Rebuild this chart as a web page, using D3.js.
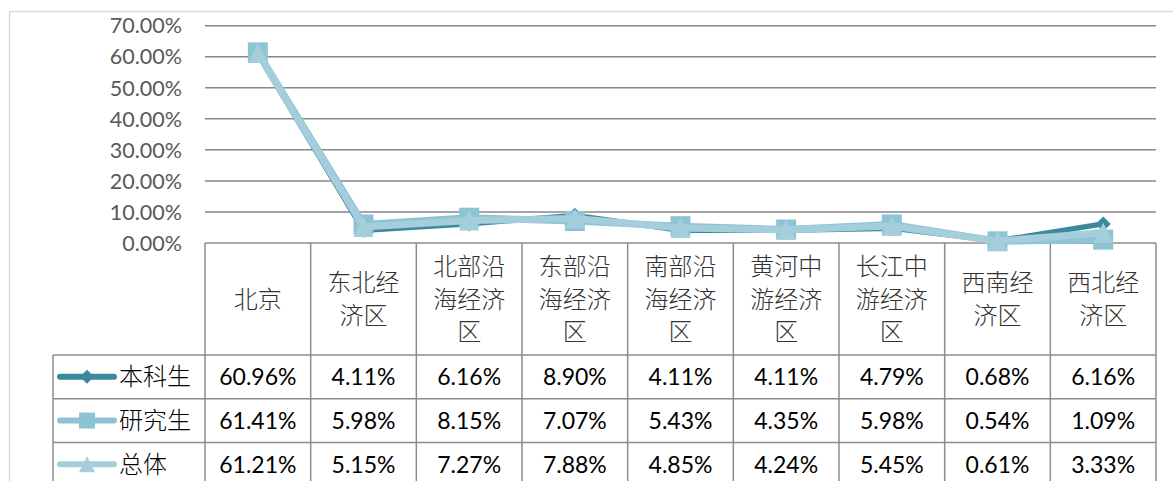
<!DOCTYPE html>
<html>
<head>
<meta charset="utf-8">
<script src="https://cdn.jsdelivr.net/npm/d3@7"></script>
<style>
  body { margin: 0; background: #fff; }
  svg text { font-family: Lato, "Noto Sans CJK SC", sans-serif; }
</style>
</head>
<body>
<div id="chart"></div>
<script>
// data
var regions = ["北京", "东北经济区", "北部沿海经济区", "东部沿海经济区", "南部沿海经济区",
               "黄河中游经济区", "长江中游经济区", "西南经济区", "西北经济区"];
var seriesNames = ["本科生", "研究生", "总体"];
var undergrad = [60.96, 4.11, 6.16, 8.90, 4.11, 4.11, 4.79, 0.68, 6.16];
var graduate  = [61.41, 5.98, 8.15, 7.07, 5.43, 4.35, 5.98, 0.54, 1.09];
var overall   = [61.21, 5.15, 7.27, 7.88, 4.85, 4.24, 5.45, 0.61, 3.33];
var yTicks = [0, 10, 20, 30, 40, 50, 60, 70];

var width = 1173, height = 481;
var plot = {left: 205, right: 1156, top: 25.7, bottom: 243};
var headerBottom = 355, rowH = 43.7, legendLeft = 53;

var series = [
  {name: seriesNames[0], values: undergrad, color: "#3a8a9e", lw: 5.5, marker: "diamond"},
  {name: seriesNames[1], values: graduate,  color: "#8ec3d5", lw: 7,   marker: "square"},
  {name: seriesNames[2], values: overall,   color: "#a5cedc", lw: 7,   marker: "triangle"}
];

var svg = d3.select("#chart").append("svg")
    .attr("width", width)
    .attr("height", height);

// outer chart border
svg.append("rect")
    .attr("x", 9.5).attr("y", 11.5)
    .attr("width", width + 20).attr("height", height + 20)
    .attr("fill", "none").attr("stroke", "#d9d9d9").attr("stroke-width", 1.5);

var x = d3.scaleBand().domain(regions).range([plot.left, plot.right]);
var y = d3.scaleLinear().domain([0, 70]).range([plot.bottom, plot.top]);

// gridlines
svg.append("g").selectAll("line")
  .data(yTicks.filter(function(d){ return d > 0; }))
  .enter().append("line")
    .attr("x1", plot.left).attr("x2", plot.right)
    .attr("y1", function(d){ return y(d); }).attr("y2", function(d){ return y(d); })
    .attr("stroke", "#878787").attr("stroke-width", 1.5);

// y labels
svg.append("g").selectAll("text")
  .data(yTicks)
  .enter().append("text")
    .attr("x", 182)
    .attr("y", function(d){ return y(d); })
    .attr("dy", "0.36em")
    .attr("text-anchor", "end")
    .attr("fill", "#595959")
    .style("font-size", "21.5px")
    .text(function(d){ return d.toFixed(2) + "%"; });

// data table grid
var tbl = svg.append("g").attr("stroke", "#8c8c8c").attr("stroke-width", 1.5);
var tableBottom = headerBottom + rowH * 3;
tbl.append("line").attr("x1", plot.left).attr("x2", plot.right)
    .attr("y1", plot.bottom).attr("y2", plot.bottom);
d3.range(0, 4).forEach(function(r){
  var yy = headerBottom + r * rowH;
  tbl.append("line").attr("x1", legendLeft).attr("x2", plot.right)
      .attr("y1", yy).attr("y2", yy);
});
tbl.append("line").attr("x1", legendLeft).attr("x2", legendLeft)
    .attr("y1", headerBottom).attr("y2", tableBottom);
d3.range(0, regions.length + 1).forEach(function(i){
  var xx = plot.left + i * x.bandwidth();
  tbl.append("line").attr("x1", xx).attr("x2", xx)
      .attr("y1", plot.bottom).attr("y2", tableBottom);
});

// category headers, 3 chars per line
var lineH = 32.5;
var heads = svg.append("g").selectAll("text")
  .data(regions)
  .enter().append("text")
    .attr("text-anchor", "middle")
    .attr("fill", "#333")
    .style("font-family", "'Noto Sans CJK SC', sans-serif")
    .style("font-size", "24px")
    .style("font-weight", 300);
heads.each(function(d){
  var parts = [];
  for (var k = 0; k < d.length; k += 3) parts.push(d.slice(k, k + 3));
  var mid = (plot.bottom + headerBottom) / 2;
  var start = mid - (parts.length - 1) * lineH / 2;
  d3.select(this).selectAll("tspan").data(parts).enter().append("tspan")
    .attr("x", x(d) + x.bandwidth() / 2)
    .attr("y", function(p, j){ return start + j * lineH; })
    .attr("dy", "0.36em")
    .text(function(p){ return p; });
});

// table values
series.forEach(function(s, r){
  var cy = headerBottom + r * rowH + rowH / 2;
  svg.append("g").selectAll("text")
    .data(s.values)
    .enter().append("text")
      .attr("x", function(d, i){ return x(regions[i]) + x.bandwidth() / 2; })
      .attr("y", cy)
      .attr("dy", "0.36em")
      .attr("text-anchor", "middle")
      .attr("fill", "#000")
      .style("font-size", "23px")
      .text(function(d){ return d.toFixed(2) + "%"; });
});

function drawMarker(g, type, cx, cy, size, color) {
  if (type === "diamond") {
    var h = size / 2;
    g.append("path")
      .attr("d", "M" + cx + "," + (cy - h) + "L" + (cx + h) + "," + cy + "L" + cx + "," + (cy + h) + "L" + (cx - h) + "," + cy + "Z")
      .attr("fill", color);
  } else if (type === "square") {
    g.append("rect")
      .attr("x", cx - size / 2).attr("y", cy - size / 2)
      .attr("width", size).attr("height", size)
      .attr("fill", color);
  } else {
    var t = size / 2;
    g.append("path")
      .attr("d", "M" + cx + "," + (cy - t) + "L" + (cx + t) + "," + (cy + t) + "L" + (cx - t) + "," + (cy + t) + "Z")
      .attr("fill", color);
  }
}

var markerSize = {diamond: 15, square: 20, triangle: 20};

// legend keys in the table
series.forEach(function(s, r){
  var cy = headerBottom + r * rowH + rowH / 2;
  var g = svg.append("g");
  g.append("line")
    .attr("x1", 60).attr("x2", 114)
    .attr("y1", cy).attr("y2", cy)
    .attr("stroke", s.color).attr("stroke-width", 6)
    .attr("stroke-linecap", "round");
  drawMarker(g, s.marker, 87, cy, s.marker === "diamond" ? 14 : 16, s.color);
  g.append("text")
    .attr("x", 119).attr("y", cy).attr("dy", "0.36em")
    .attr("fill", "#000")
    .style("font-family", "'Noto Sans CJK SC', sans-serif")
    .style("font-size", "24px")
    .style("font-weight", 300)
    .text(s.name);
});

// lines and markers
var line = d3.line()
    .x(function(d, i){ return x(regions[i]) + x.bandwidth() / 2; })
    .y(function(d){ return y(d); });

series.forEach(function(s){
  var g = svg.append("g");
  g.append("path")
    .datum(s.values)
    .attr("d", line)
    .attr("fill", "none")
    .attr("stroke", s.color)
    .attr("stroke-width", s.lw)
    .attr("stroke-linejoin", "round");
  s.values.forEach(function(v, i){
    drawMarker(g, s.marker, x(regions[i]) + x.bandwidth() / 2, y(v), markerSize[s.marker], s.color);
  });
});
</script>
</body>
</html>
